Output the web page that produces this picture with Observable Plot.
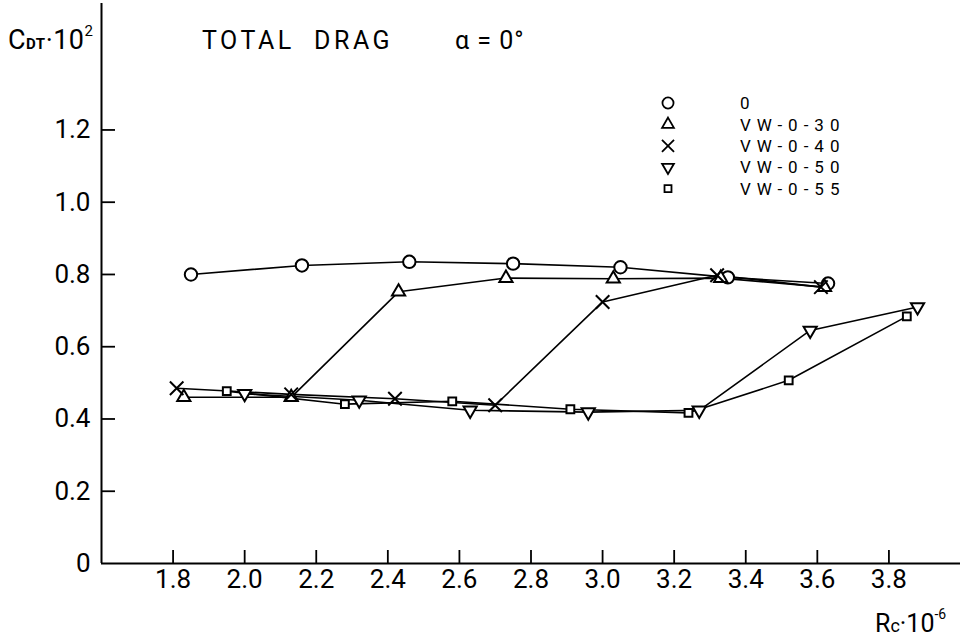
<!DOCTYPE html>
<html>
<head>
<meta charset="utf-8">
<script src="https://cdn.jsdelivr.net/npm/d3@7"></script>
<script src="https://cdn.jsdelivr.net/npm/@observablehq/plot@0.6"></script>
<style>
  html, body { margin: 0; padding: 0; background: #fff; }
  #chart svg { display: block; }
</style>
</head>
<body>
<div id="chart"></div>
<script>
// Total drag coefficient (x100) against Reynolds number (x1e-6), alpha = 0 deg
const seriesNames = ["0", "VW-0-30", "VW-0-40", "VW-0-50", "VW-0-55"];

const rc0  = [1.85, 2.16, 2.46, 2.75, 3.05, 3.35, 3.63];
const cd0  = [0.800, 0.825, 0.835, 0.830, 0.820, 0.792, 0.775];

const rc30 = [1.83, 2.13, 2.43, 2.73, 3.03, 3.33, 3.62];
const cd30 = [0.460, 0.460, 0.752, 0.790, 0.788, 0.790, 0.765];

const rc40 = [1.81, 2.13, 2.42, 2.70, 3.00, 3.32, 3.61];
const cd40 = [0.485, 0.468, 0.456, 0.438, 0.724, 0.798, 0.765];

const rc50 = [2.00, 2.32, 2.63, 2.96, 3.27, 3.58, 3.88];
const cd50 = [0.470, 0.452, 0.424, 0.419, 0.424, 0.645, 0.710];

const rc55 = [1.95, 2.28, 2.58, 2.91, 3.24, 3.52, 3.85];
const cd55 = [0.477, 0.441, 0.449, 0.427, 0.417, 0.507, 0.684];

const xTicks = [1.8, 2.0, 2.2, 2.4, 2.6, 2.8, 3.0, 3.2, 3.4, 3.6, 3.8];
const xTickLabels = ["1.8", "2.0", "2.2", "2.4", "2.6", "2.8", "3.0", "3.2", "3.4", "3.6", "3.8"];
const yTicks = [0, 0.2, 0.4, 0.6, 0.8, 1.0, 1.2];
const yTickLabels = ["0", "0.2", "0.4", "0.6", "0.8", "1.0", "1.2"];

// symbol styling per series
const symbols = ["circle", "triangle", "times", "triangle", "square"];
const rotations = [0, 0, 0, 180, 0];
const radii = [6.2, 4.9, 6.2, 4.9, 4.4];

const columns = [[rc0, cd0], [rc30, cd30], [rc40, cd40], [rc50, cd50], [rc55, cd55]];
const rows = columns.flatMap(([xs, ys], i) =>
  xs.map((x, j) => ({series: seriesNames[i], idx: i, rc: x, cd: ys[j]})));

const W = 960, H = 639;
const mLeft = 101, mRight = 0, mTop = 3, mBottom = 76;
const xDomain = [1.6, 4.0], yDomain = [0, 1.55];
const pxPerX = (W - mLeft - mRight) / (xDomain[1] - xDomain[0]);
const pxPerY = (H - mTop - mBottom) / (yDomain[1] - yDomain[0]);
const tickPx = 13;

const font = "Roboto, 'Liberation Sans', sans-serif";

const marks = [
  // axis lines
  Plot.ruleX([xDomain[0]], {y1: yDomain[0], y2: yDomain[1], stroke: "#000", strokeWidth: 2}),
  Plot.ruleY([0], {x1: xDomain[0], x2: xDomain[1], stroke: "#000", strokeWidth: 2}),
  // inward ticks
  Plot.ruleX(xTicks, {y1: 0, y2: tickPx / pxPerY, stroke: "#000", strokeWidth: 1.8}),
  Plot.ruleY(yTicks.slice(1), {x1: xDomain[0], x2: xDomain[0] + (tickPx + 1) / pxPerX, stroke: "#000", strokeWidth: 1.8}),
  // tick labels
  Plot.text(xTicks, {x: d => d, frameAnchor: "bottom", dy: 24, text: (d, i) => xTickLabels[i],
    fontSize: 26, fill: "#000", textAnchor: "middle"}),
  Plot.text(yTicks, {y: d => d, frameAnchor: "left", dx: -11, text: (d, i) => yTickLabels[i],
    fontSize: 26, fill: "#000", textAnchor: "end"}),
  // connecting lines
  ...seriesNames.map((s, i) => Plot.line(rows.filter(d => d.idx === i), {
    x: "rc", y: "cd", stroke: "#000", strokeWidth: 1.6
  })),
  // markers
  ...seriesNames.map((s, i) => Plot.dot(rows.filter(d => d.idx === i), {
    x: "rc", y: "cd", symbol: () => symbols[i], r: radii[i], rotate: rotations[i],
    stroke: "#000", strokeWidth: 2, fill: "#fff"
  }))
];

const chart = Plot.plot({
  width: W, height: H,
  marginLeft: mLeft, marginRight: mRight, marginTop: mTop, marginBottom: mBottom,
  x: {domain: xDomain, axis: null},
  y: {domain: yDomain, axis: null},
  symbol: {type: "identity"},
  style: {fontFamily: font, color: "#000", background: "#fff", overflow: "visible"},
  marks
});

const svg = d3.select(chart);
const addText = (x, y, size, spacing) => svg.append("text")
  .attr("x", x).attr("y", y).attr("text-anchor", "start")
  .attr("font-family", font).attr("font-size", size)
  .attr("letter-spacing", spacing).attr("fill", "#000");

// y-axis label  C_DT · 10^2
const yl = addText(8, 49, 27, 0.5);
yl.append("tspan").text("C");
yl.append("tspan").attr("font-size", 15).attr("font-weight", 700).text("DT");
yl.append("tspan").text("·10");
yl.append("tspan").attr("font-size", 15).attr("dy", -13).text("2");

// title
addText(202, 49, 25, 3.5).text("TOTAL  DRAG");
addText(455, 49, 25, 1).text("α = 0°");

// x-axis label  Rc · 10^-6
const xl = addText(875, 632, 25, 0);
xl.append("tspan").text("R");
xl.append("tspan").attr("font-size", 18).text("c");
xl.append("tspan").text("·10");
xl.append("tspan").attr("font-size", 14).attr("dy", -13).text("-6");

// legend
const legX = 668, legTextX = 740, legY0 = 103, legStep = 21.4;
const symbolTypes = {circle: d3.symbolCircle, triangle: d3.symbolTriangle, times: d3.symbolTimes, square: d3.symbolSquare};
seriesNames.forEach((name, i) => {
  const y = legY0 + i * legStep;
  svg.append("path")
    .attr("d", d3.symbol(symbolTypes[symbols[i]], Math.PI * radii[i] * radii[i] * 0.8)())
    .attr("transform", `translate(${legX},${y}) rotate(${rotations[i]})`)
    .attr("fill", "#fff").attr("stroke", "#000").attr("stroke-width", 1.8);
  addText(legTextX, y, 17, 6).attr("dy", "0.36em").text(name);
});

document.getElementById("chart").appendChild(chart);
</script>
</body>
</html>
